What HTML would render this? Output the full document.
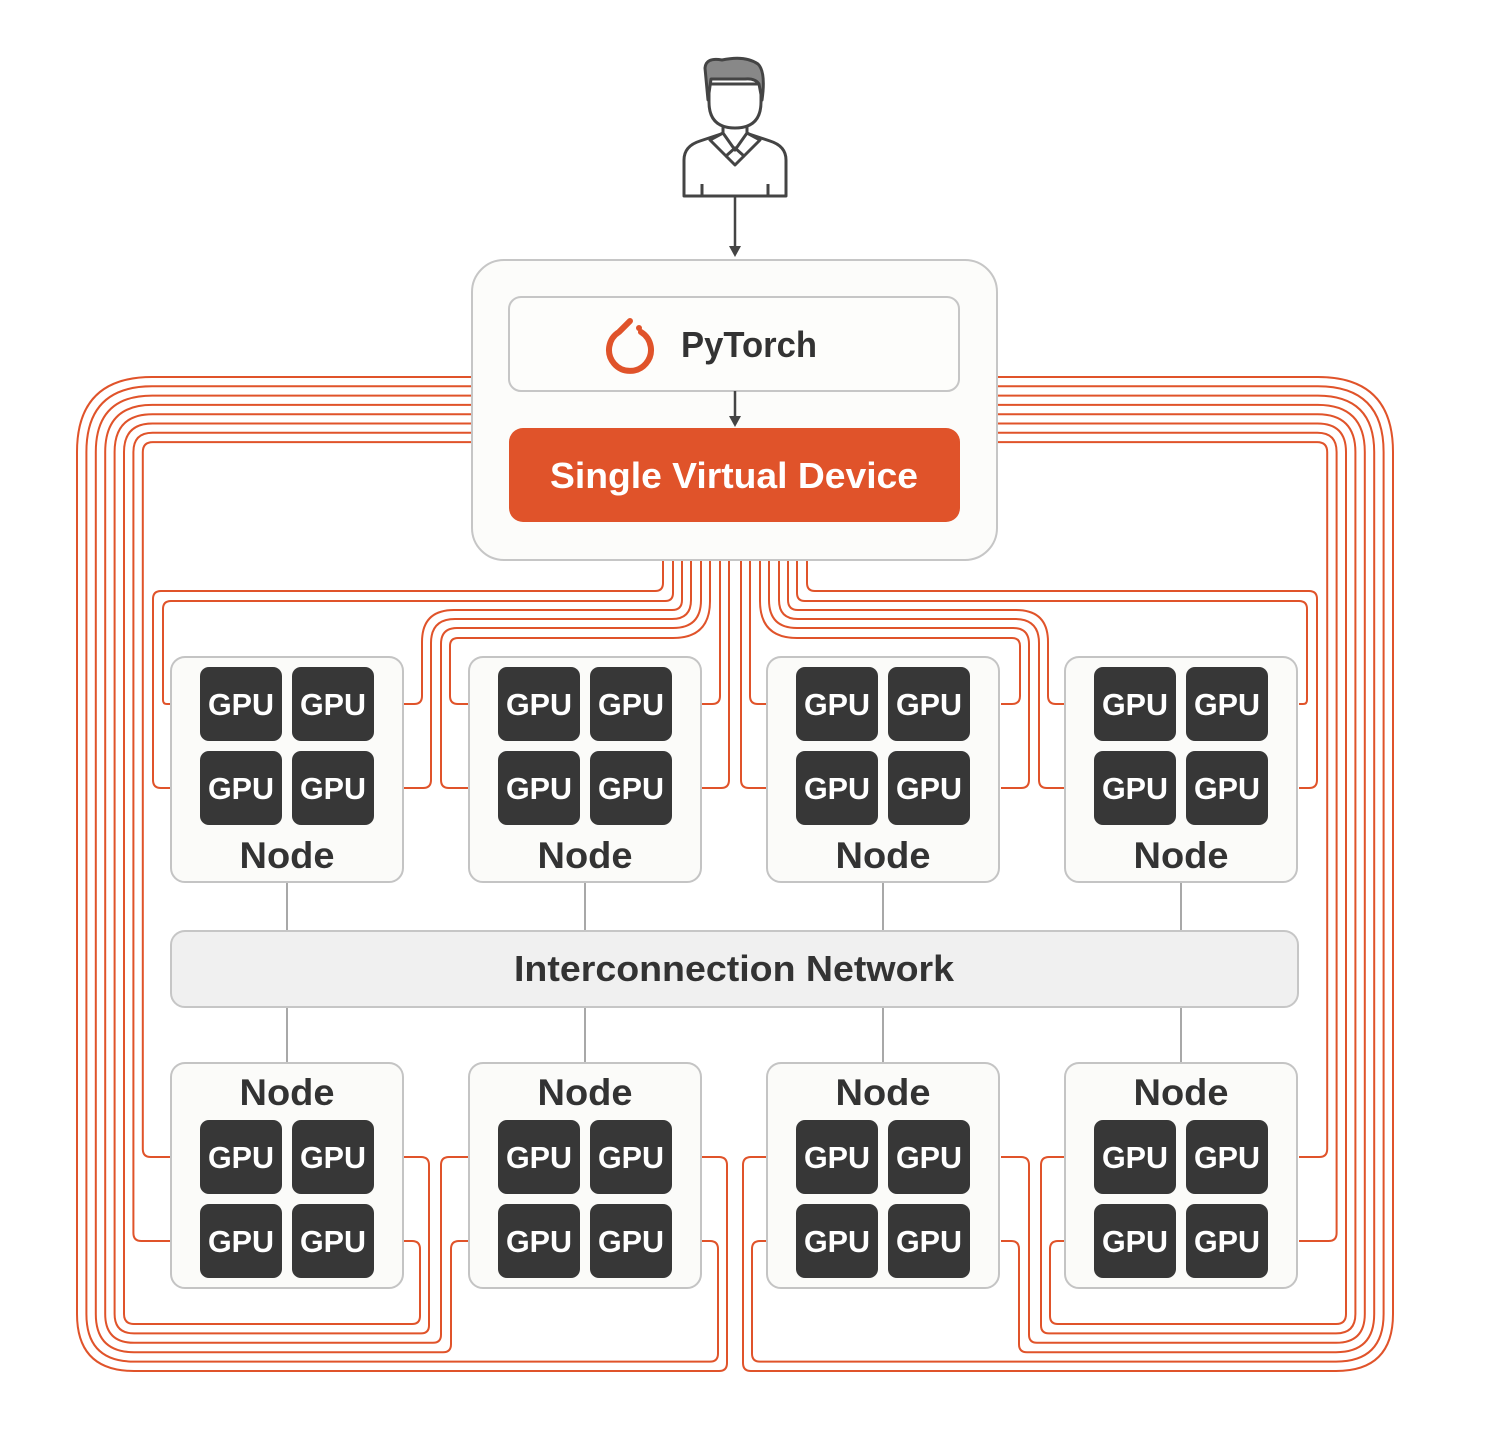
<!DOCTYPE html>
<html><head><meta charset="utf-8"><style>
html,body{margin:0;padding:0;background:#fff}
svg{display:block}
text{font-family:"Liberation Sans",sans-serif}
</style></head><body>
<svg id="s" width="1488" height="1450" viewBox="0 0 1488 1450" xmlns="http://www.w3.org/2000/svg">
<g id="orange" fill="none" stroke="#e0532a" stroke-width="2"></g>
<!-- person -->
<g stroke="#444" stroke-width="3" fill="#fff" stroke-linejoin="round">
<path d="M684,196 L684,160 Q684,146 700,141 L724,133 L746,133 L770,141 Q786,146 786,160 L786,196 Z"/>
<path d="M723,124 L723,138 L735,150 L747,138 L747,124"/>
<path d="M710,140 L723,133 L735,150 L747,133 L760,140 L744,156 L735,148 L726,156 Z"/>
<path d="M726,156 L735,165 L744,156"/>
<line x1="702" y1="184" x2="702" y2="196"/><line x1="768" y1="184" x2="768" y2="196"/>
<path d="M709,84 L709,102 Q709,128 735,128 Q761,128 761,102 L761,84 Z"/>
<path d="M708,100 L705,68 Q706,57 722,60 Q745,55 758,64 Q766,72 762,100 L759,84 Q755,78 745,79 L711,79 Z" fill="#888"/>
</g>
<line x1="735" y1="197" x2="735" y2="248" stroke="#444" stroke-width="2.5"/>
<path d="M729,246 L741,246 L735,257 Z" fill="#444"/>
<!-- top box -->
<rect x="472" y="260" width="525" height="300" rx="32" fill="#fcfcfa" stroke="#c6c6c6" stroke-width="2"/>
<rect x="509" y="297" width="450" height="94" rx="12" fill="#fdfdfb" stroke="#c6c6c6" stroke-width="2"/>
<line x1="735" y1="391" x2="735" y2="418" stroke="#444" stroke-width="2.5"/>
<path d="M729,416 L741,416 L735,427 Z" fill="#444"/>
<rect x="509" y="428" width="451" height="94" rx="14" fill="#e0532a"/>
<text x="734" y="488" text-anchor="middle" font-size="36" font-weight="bold" fill="#fff" textLength="368" lengthAdjust="spacingAndGlyphs">Single Virtual Device</text>
<g fill="none" stroke="#e0532a" stroke-width="6" stroke-linecap="round">
<path d="M641,332 A21,21 0 1 1 619,332 L630,321"/>
</g>
<circle cx="639" cy="328" r="3" fill="#e0532a"/>
<text x="749" y="357" text-anchor="middle" font-size="36" font-weight="bold" fill="#333" textLength="136" lengthAdjust="spacingAndGlyphs">PyTorch</text>
<!-- interconnect -->
<g stroke="#a8a8a8" stroke-width="2">
<line x1="287" y1="882" x2="287" y2="1063"/><line x1="585" y1="882" x2="585" y2="1063"/>
<line x1="883" y1="882" x2="883" y2="1063"/><line x1="1181" y1="882" x2="1181" y2="1063"/>
</g>
<rect x="171" y="931" width="1127" height="76" rx="14" fill="#f0f0f0" stroke="#c6c6c6" stroke-width="2"/>
<text x="734" y="981" text-anchor="middle" font-size="36" font-weight="bold" fill="#333" textLength="440" lengthAdjust="spacingAndGlyphs">Interconnection Network</text>
<g id="nodes"></g>
</svg>
<script>
const NS="http://www.w3.org/2000/svg";
const og=document.getElementById('orange'), ng=document.getElementById('nodes');
function el(p,t,a,txt){const e=document.createElementNS(NS,t);for(const k in a)e.setAttribute(k,a[k]);if(txt)e.textContent=txt;p.appendChild(e);return e;}
function rp(pts,rs){let d="M"+pts[0][0]+","+pts[0][1];
 for(let i=1;i<pts.length-1;i++){const P=pts[i],A=pts[i-1],B=pts[i+1];
  const r=(rs&&rs[i-1]!=null)?rs[i-1]:9;
  const l1=Math.hypot(P[0]-A[0],P[1]-A[1]),l2=Math.hypot(B[0]-P[0],B[1]-P[1]);
  const rr=Math.min(r,l1/2,l2/2);
  const p1=[P[0]-(P[0]-A[0])/l1*rr,P[1]-(P[1]-A[1])/l1*rr],p2=[P[0]+(B[0]-P[0])/l2*rr,P[1]+(B[1]-P[1])/l2*rr];
  d+=" L"+p1[0].toFixed(1)+","+p1[1].toFixed(1)+" Q"+P[0]+","+P[1]+" "+p2[0].toFixed(1)+","+p2[1].toFixed(1);}
 const L=pts[pts.length-1];d+=" L"+L[0]+","+L[1];return d;}
const paths=[];
for(let i=0;i<8;i++){
 const yt=377+i*9.3,xv=77+i*9.4,rt=Math.max(10,75-i*9.3);
 if(i==7){paths.push([[[472,yt],[xv,yt],[xv,1157],[171,1157]],[rt,8]]);continue;}
 if(i==6){paths.push([[[472,yt],[xv,yt],[xv,1241],[171,1241]],[rt,8]]);continue;}
 const yb=1371-i*9.4,rb=57-i*9.4;
 const cfg=[[727,1157,701],[718,1241,701],[451,1241,469],[441,1157,469],[429,1157,403],[420,1241,403]][i];
 paths.push([[[472,yt],[xv,yt],[xv,yb],[cfg[0],yb],[cfg[0],cfg[1]],[cfg[2],cfg[1]]],[rt,rb,8,8]]);
}
const tg=[
 [[[663,560],[663,591],[153,591],[153,788],[171,788]],[8,8,8]],
 [[[673,560],[673,601],[163,601],[163,704],[171,704]],[8,8,8]],
 [[[682,560],[682,610],[422,610],[422,704],[403,704]],[10,32,8]],
 [[[691,560],[691,619],[431,619],[431,788],[403,788]],[19,24,8]],
 [[[701,560],[701,628],[441,628],[441,788],[469,788]],[28,16,8]],
 [[[710,560],[710,638],[450,638],[450,704],[469,704]],[37,8,8]],
 [[[720,560],[720,704],[701,704]],[8]],
 [[[729,560],[729,788],[701,788]],[8]]
];
tg.forEach(t=>paths.push(t));
paths.forEach(([p,r])=>{
 el(og,'path',{d:rp(p,r)});
 el(og,'path',{d:rp(p.map(q=>[1470-q[0],q[1]]),r)});
});
const xs=[171,469,767,1065];
function node(x,y,top){
 el(ng,'rect',{x:x,y:y,width:232,height:225,rx:14,fill:'#fbfbf9',stroke:'#c4c4c4','stroke-width':2});
 const gy=top?[y+10,y+94]:[y+57,y+141];
 for(const yy of gy)for(const xx of [x+29,x+121]){
  el(ng,'rect',{x:xx,y:yy,width:82,height:74,rx:9,fill:'#373737'});
  el(ng,'text',{x:xx+41,y:yy+48,'text-anchor':'middle','font-size':31,'font-weight':'bold',fill:'#fff',textLength:66,lengthAdjust:'spacingAndGlyphs'},'GPU');
 }
 el(ng,'text',{x:x+116,y:top?y+211:y+42,'text-anchor':'middle','font-size':37,'font-weight':'bold',fill:'#333',textLength:95,lengthAdjust:'spacingAndGlyphs'},'Node');
}
xs.forEach(x=>{node(x,657,true);node(x,1063,false);});
</script>
</body></html>
